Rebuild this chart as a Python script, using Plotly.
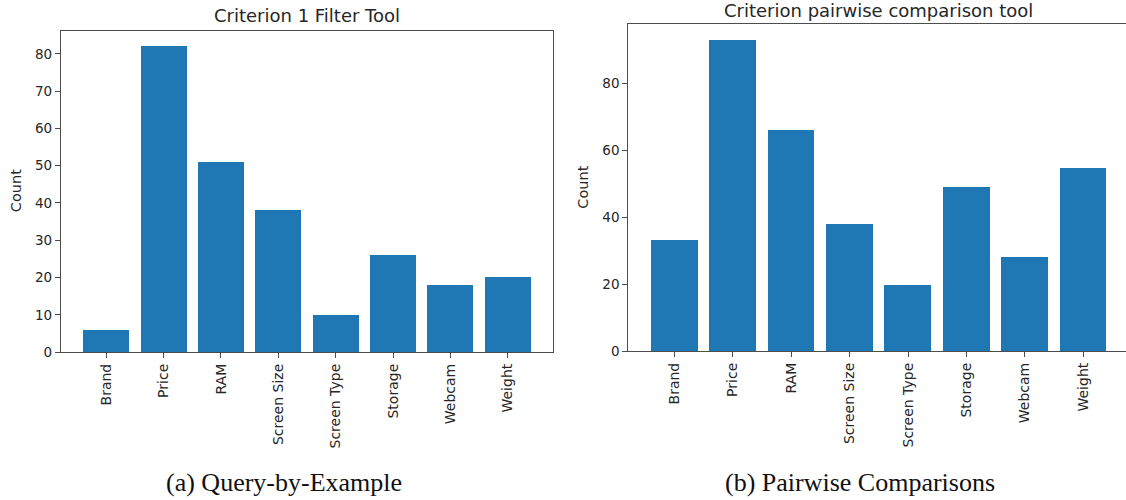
import plotly.graph_objects as go

categories = ["Brand", "Price", "RAM", "Screen Size", "Screen Type", "Storage", "Webcam", "Weight"]
filter_counts = [6, 82, 51, 38, 10, 26, 18, 20]
pairwise_counts = [33, 93, 66, 38, 19.5, 49, 28, 54.5]
left_yticks = [0, 10, 20, 30, 40, 50, 60, 70, 80]
right_yticks = [0, 20, 40, 60, 80]
left_title = "Criterion 1 Filter Tool"
right_title = "Criterion pairwise comparison tool"
caption_a = "(a) Query-by-Example"
caption_b = "(b) Pairwise Comparisons"

W, H = 1126, 500
SY = 1 / 0.983  # vertical compensation
BAR = "#1f77b4"
TXT = "#262626"
LINE = "#4d4d4d"
FONT = "DejaVu Sans"

def px(x):
    return x / W

def py(y):
    return max(0.0, min(1.0, 1 - (y * SY) / H))

fig = go.Figure()
xs = list(range(len(categories)))
fig.add_trace(go.Bar(x=xs, y=filter_counts, width=0.8, marker=dict(color=BAR, line=dict(width=0)),
                     xaxis="x", yaxis="y", showlegend=False))
fig.add_trace(go.Bar(x=xs, y=pairwise_counts, width=0.8, marker=dict(color=BAR, line=dict(width=0)),
                     xaxis="x2", yaxis="y2", showlegend=False))

axis_common = dict(showgrid=False, zeroline=False, showline=True, linecolor=LINE, linewidth=1.2,
                   ticks="outside", ticklen=5, tickwidth=1, tickcolor=LINE)
xfont = dict(family=FONT, size=14, color=TXT)
yfont = dict(family=FONT, size=13.5, color=TXT)

fig.update_layout(
    width=W, height=H, margin=dict(l=0, r=0, t=0, b=0),
    paper_bgcolor="white", plot_bgcolor="white",
    xaxis=dict(domain=[px(61), px(553)], range=[-0.79, 7.79], anchor="y",
               tickmode="array", tickvals=xs, ticktext=categories, tickangle=-90,
               tickfont=xfont, mirror=True, **axis_common),
    yaxis=dict(domain=[py(351.7), py(31)], range=[0, 86.1], anchor="x",
               tickmode="array", tickvals=left_yticks, tickfont=yfont, mirror=True, **axis_common),
    xaxis2=dict(domain=[px(628.3), 1.0], range=[-0.79, 7.73], anchor="y2",
                tickmode="array", tickvals=xs, ticktext=categories, tickangle=-90,
                tickfont=xfont, mirror=True, **axis_common),
    yaxis2=dict(domain=[py(350.7), py(24.3)], range=[0, 97.65], anchor="x2",
                tickmode="array", tickvals=right_yticks, tickfont=yfont, mirror=False, **axis_common),
    bargap=0,
)

ann = []
ann.append(dict(text=left_title, x=px(307), y=py(15), xref="paper", yref="paper",
                showarrow=False, xanchor="center", yanchor="middle",
                font=dict(family=FONT, size=18, color=TXT)))
ann.append(dict(text=right_title, x=px(878), y=py(10), xref="paper", yref="paper",
                showarrow=False, xanchor="center", yanchor="middle",
                font=dict(family=FONT, size=18, color=TXT)))
ann.append(dict(text="Count", x=px(16), y=py(191), xref="paper", yref="paper", textangle=-90,
                showarrow=False, xanchor="center", yanchor="middle",
                font=dict(family=FONT, size=14.5, color=TXT)))
ann.append(dict(text="Count", x=px(583), y=py(187.5), xref="paper", yref="paper", textangle=-90,
                showarrow=False, xanchor="center", yanchor="middle",
                font=dict(family=FONT, size=14.5, color=TXT)))
ann.append(dict(text=caption_a, x=px(284), y=py(482), xref="paper", yref="paper",
                showarrow=False, xanchor="center", yanchor="middle",
                font=dict(family="Liberation Serif", size=26, color="#111")))
ann.append(dict(text=caption_b, x=px(860), y=py(482), xref="paper", yref="paper",
                showarrow=False, xanchor="center", yanchor="middle",
                font=dict(family="Liberation Serif", size=26, color="#111")))
fig.update_layout(annotations=ann)

fig.write_html("out.html", config={"displayModeBar": False},
               post_script="document.body.style.margin='0';document.body.style.overflow='hidden';")
